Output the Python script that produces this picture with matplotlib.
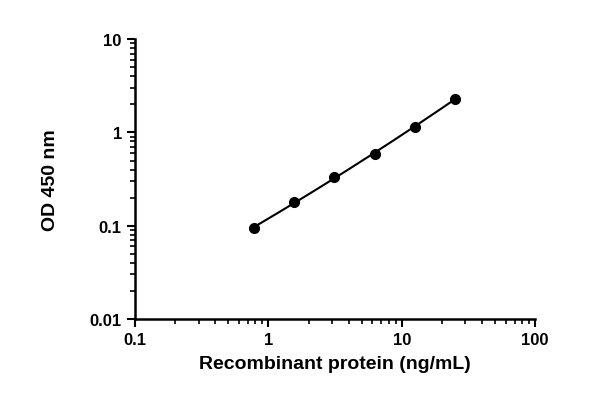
import numpy as np
import matplotlib
matplotlib.use("Agg")
import matplotlib.pyplot as plt
from matplotlib.ticker import LogLocator, FixedFormatter, FixedLocator, NullFormatter

plt.rcParams["font.family"] = "Liberation Sans"

conc = [0.78, 1.56, 3.125, 6.25, 12.5, 25]
od = [0.095, 0.178, 0.335, 0.58, 1.15, 2.3]
xticks = [0.1, 1, 10, 100]
xlabels = ["0.1", "1", "10", "100"]
yticks = [0.01, 0.1, 1, 10]
ylabels = ["0.01", "0.1", "1", "10"]

fig = plt.figure(figsize=(6, 4.06), dpi=100)
ax = fig.add_axes([0.225, 0.212, 0.667, 0.689])
lx, ly = np.log10(conc), np.log10(od)
c = np.polyfit(lx, ly, 2)
xs = np.linspace(lx[0], lx[-1], 200)
ax.plot(10**xs, 10**np.polyval(c, xs), color="black", lw=1.5)
ax.plot(conc, od, "o", color="black", ms=7)
ax.set_xscale("log"); ax.set_yscale("log")
ax.set_xlim(0.1, 100); ax.set_ylim(0.01, 10)
ax.xaxis.set_major_locator(FixedLocator(xticks))
ax.xaxis.set_major_formatter(FixedFormatter(xlabels))
ax.yaxis.set_major_locator(FixedLocator(yticks))
ax.yaxis.set_major_formatter(FixedFormatter(ylabels))
for a in (ax.xaxis, ax.yaxis):
    a.set_minor_locator(LogLocator(subs=np.arange(2, 10)))
    a.set_minor_formatter(NullFormatter())
for s in ("top", "right"):
    ax.spines[s].set_visible(False)
for s in ("left", "bottom"):
    ax.spines[s].set_linewidth(1.8)
ax.tick_params(which="major", length=6, width=1.5, labelsize=12, direction="out")
ax.tick_params(which="minor", length=3.5, width=1.2, direction="out")
for t in ax.get_xticklabels() + ax.get_yticklabels():
    t.set_fontweight("bold")
ax.set_xlabel("Recombinant protein (ng/mL)", fontsize=14, fontweight="bold", labelpad=6)
ax.set_ylabel("OD 450 nm", fontsize=14, fontweight="bold", labelpad=22)
fig.savefig("out.png", dpi=100)
